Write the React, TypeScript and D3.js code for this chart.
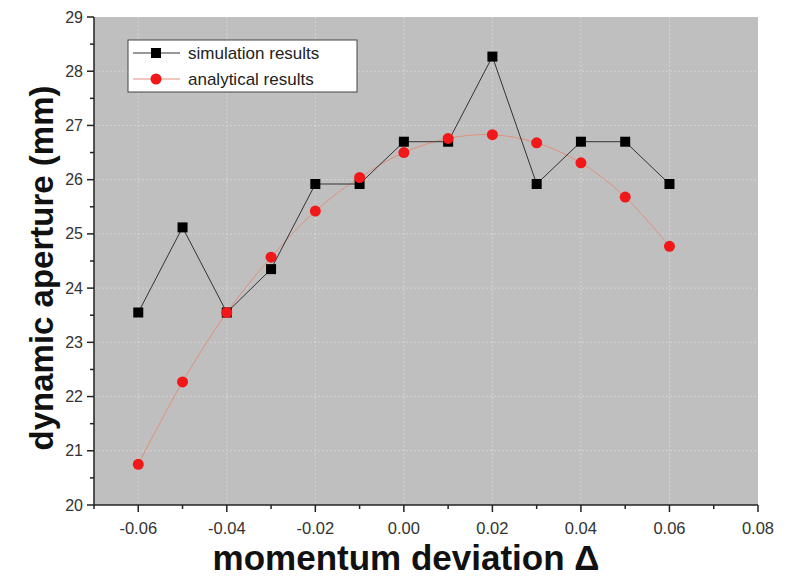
import React from "react";
import * as d3 from "d3";

const xValues = [-0.06, -0.05, -0.04, -0.03, -0.02, -0.01, 0.0, 0.01, 0.02, 0.03, 0.04, 0.05, 0.06];
const simulation = [23.55, 25.12, 23.55, 24.35, 25.92, 25.92, 26.7, 26.7, 28.27, 25.92, 26.7, 26.7, 25.92];
const analytical = [20.75, 22.27, 23.55, 24.57, 25.42, 26.04, 26.5, 26.76, 26.83, 26.68, 26.31, 25.68, 24.77];
const xTicks = [-0.06, -0.04, -0.02, 0.0, 0.02, 0.04, 0.06, 0.08];
const xMinor = [-0.07, -0.05, -0.03, -0.01, 0.01, 0.03, 0.05, 0.07];
const yTicks = [20, 21, 22, 23, 24, 25, 26, 27, 28, 29];
const yMinor = [20.5, 21.5, 22.5, 23.5, 24.5, 25.5, 26.5, 27.5, 28.5];
const legendLabels = ["simulation results", "analytical results"];

export default function App() {
  const W = 788, H = 580;
  const L = 94, R = 758, T = 17, B = 505;
  const x = d3.scaleLinear().domain([-0.07, 0.08]).range([L, R]);
  const y = d3.scaleLinear().domain([20, 29]).range([B, T]);
  const font = "Arial, 'Liberation Sans', sans-serif";

  const simLine = d3.line<number>().x((_, i) => x(xValues[i])).y((d) => y(d))(simulation) || "";
  const anaLine = d3.line<number>().x((_, i) => x(xValues[i])).y((d) => y(d)).curve(d3.curveCatmullRom)(analytical) || "";

  return (
    <svg width={W} height={H} style={{ position: "absolute", left: 0, top: 0, background: "#fff" }}>
      <rect x={L} y={T} width={R - L} height={B - T} fill="#c0bfc0" />
      {xTicks.slice(0, -1).map((t) => (
        <line key={"gx" + t} x1={x(t)} x2={x(t)} y1={T} y2={B} stroke="#d4d4d4" strokeWidth={1} strokeDasharray="2,2" />
      ))}
      {yTicks.slice(1, -1).map((t) => (
        <line key={"gy" + t} x1={L} x2={R} y1={y(t)} y2={y(t)} stroke="#d4d4d4" strokeWidth={1} strokeDasharray="2,2" />
      ))}
      {/* axes */}
      <line x1={L} x2={R} y1={B} y2={B} stroke="#222" strokeWidth={1.5} />
      <line x1={L} x2={L} y1={T} y2={B} stroke="#222" strokeWidth={1.5} />
      {xTicks.map((t) => (
        <g key={"xt" + t}>
          <line x1={x(t)} x2={x(t)} y1={B} y2={B + 7} stroke="#222" strokeWidth={1.5} />
          <text x={x(t)} y={B + 29} textAnchor="middle" fontFamily={font} fontSize={16.5} fill="#333">
            {t === 0 ? "0.00" : t.toFixed(2)}
          </text>
        </g>
      ))}
      {xMinor.map((t) => (
        <line key={"xm" + t} x1={x(t)} x2={x(t)} y1={B} y2={B + 4} stroke="#222" strokeWidth={1.5} />
      ))}
      {yTicks.map((t) => (
        <g key={"yt" + t}>
          <line x1={L - 7} x2={L} y1={y(t)} y2={y(t)} stroke="#222" strokeWidth={1.5} />
          <text x={L - 11} y={y(t) + 5.5} textAnchor="end" fontFamily={font} fontSize={16} fill="#333">
            {t}
          </text>
        </g>
      ))}
      {yMinor.map((t) => (
        <line key={"ym" + t} x1={L - 4} x2={L} y1={y(t)} y2={y(t)} stroke="#222" strokeWidth={1.5} />
      ))}
      {/* series */}
      <path d={anaLine} fill="none" stroke="#e0907a" strokeWidth={1} />
      <path d={simLine} fill="none" stroke="#333" strokeWidth={1} />
      {simulation.map((v, i) => (
        <rect key={"s" + i} x={x(xValues[i]) - 5} y={y(v) - 5} width={10} height={10} fill="#000" />
      ))}
      {analytical.map((v, i) => (
        <circle key={"a" + i} cx={x(xValues[i])} cy={y(v)} r={5.5} fill="#f01818" />
      ))}
      {/* legend */}
      <rect x={128} y={40} width={229} height={52} fill="#fff" stroke="#444" strokeWidth={1} />
      <line x1={133} x2={180} y1={53} y2={53} stroke="#333" strokeWidth={1} />
      <rect x={151} y={48} width={10} height={10} fill="#000" />
      <line x1={133} x2={180} y1={79} y2={79} stroke="#e0907a" strokeWidth={1} />
      <circle cx={156} cy={79} r={5.5} fill="#f01818" />
      <text x={188} y={59} fontFamily={font} fontSize={17} fill="#222">{legendLabels[0]}</text>
      <text x={188} y={85} fontFamily={font} fontSize={17} fill="#222">{legendLabels[1]}</text>
      {/* axis titles */}
      <text x={406} y={570} textAnchor="middle" fontFamily={font} fontWeight="bold" fontSize={35} fill="#111">
        momentum deviation Δ
      </text>
      <text transform={`translate(53, 268) rotate(-90)`} textAnchor="middle" fontFamily={font} fontWeight="bold" fontSize={33} fill="#111">
        dynamic aperture (mm)
      </text>
    </svg>
  );
}
